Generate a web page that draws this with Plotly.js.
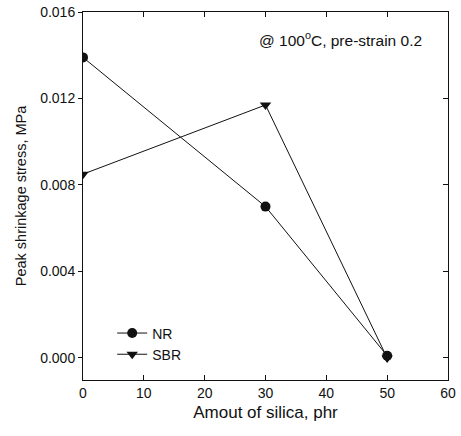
<!DOCTYPE html>
<html><head><meta charset="utf-8">
<script src="https://cdn.plot.ly/plotly-3.0.1.min.js"></script>
<style>html,body{margin:0;padding:0;background:#fff}</style>
</head><body>
<div id="chart" style="width:461px;height:436px"></div>
<script>
const silica = [0, 30, 50];
const nrStress = [0.0139, 0.0070, 0.0001];
const sbrStress = [0.0085, 0.0117, 0.0000];
const xTicks = [0, 10, 20, 30, 40, 50, 60];
const yTicks = [0.000, 0.004, 0.008, 0.012, 0.016];
const yTickText = ['0.000', '0.004', '0.008', '0.012', '0.016'];

const fam = 'Liberation Sans, Arial, sans-serif';
const traces = [
  {x: silica, y: nrStress, name: 'NR', mode: 'lines+markers', type: 'scatter',
   line: {color: '#111', width: 1}, marker: {symbol: 'circle', size: 10, color: '#111'}},
  {x: silica, y: sbrStress, name: 'SBR', mode: 'lines+markers', type: 'scatter',
   line: {color: '#111', width: 1}, marker: {symbol: 'triangle-down', size: 10, color: '#111'}},
  {x: [null], y: [null], yaxis: 'y2', showlegend: false, hoverinfo: 'skip'}
];
const yRange = [-0.00102, 0.016];
const layout = {
  width: 461, height: 436,
  margin: {l: 83, r: 13, t: 12, b: 56},
  paper_bgcolor: '#fff', plot_bgcolor: '#fff',
  font: {family: fam, color: '#111', size: 14},
  showlegend: true,
  legend: {x: 0.08, y: 0.17, xanchor: 'left', yanchor: 'top', bgcolor: 'rgba(0,0,0,0)',
           font: {family: fam, size: 14, color: '#111'}, tracegroupgap: 0},
  xaxis: {range: [0, 60], tickvals: xTicks, ticks: 'inside', ticklen: 5, tickcolor: '#111',
          showline: true, linecolor: '#111', linewidth: 1, mirror: 'ticks', showgrid: false, zeroline: false,
          title: {text: 'Amout of silica, phr', font: {family: fam, size: 17, color: '#111'}, standoff: 6},
          tickfont: {family: fam, size: 14, color: '#111'}},
  yaxis: {range: yRange, tickvals: yTicks, ticktext: yTickText, ticks: 'outside', ticklen: 4, tickcolor: '#111',
          showline: true, linecolor: '#111', linewidth: 1, mirror: true, showgrid: false, zeroline: false,
          title: {text: 'Peak shrinkage stress, MPa', font: {family: fam, size: 14.5, color: '#111'}, standoff: 10},
          tickfont: {family: fam, size: 14, color: '#111'}},
  yaxis2: {range: yRange, tickvals: yTicks, overlaying: 'y', side: 'right', ticks: 'inside', ticklen: 5,
           tickcolor: '#111', showticklabels: false, showgrid: false, zeroline: false, showline: false},
  annotations: [{text: '@ 100<sup>o</sup>C, pre-strain 0.2', x: 0.935, y: 0.96, xref: 'paper', yref: 'paper',
                 xanchor: 'right', yanchor: 'top', showarrow: false,
                 font: {family: fam, size: 15.5, color: '#111'}}]
};
Plotly.newPlot('chart', traces, layout, {displayModeBar: false, staticPlot: true});
</script>
</body></html>
